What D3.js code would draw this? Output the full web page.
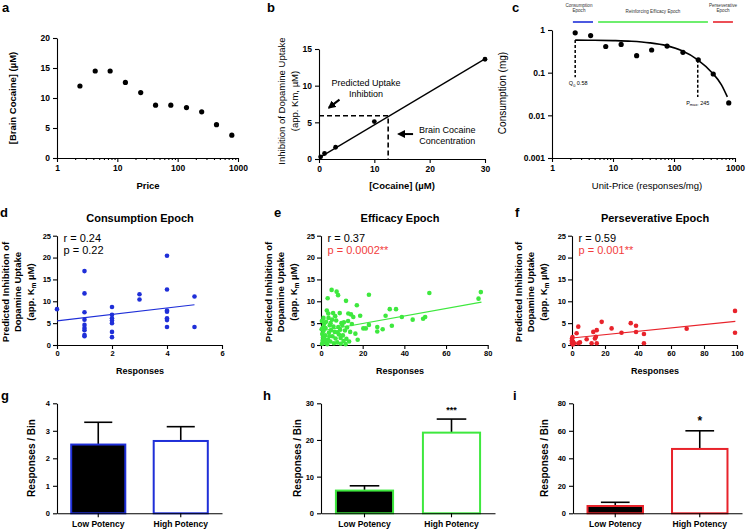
<!DOCTYPE html>
<html><head><meta charset="utf-8">
<script src="https://cdn.jsdelivr.net/npm/d3@7"></script>
<style>body{margin:0;background:#fff} svg{display:block} text{font-family:"Liberation Sans",Arial,Helvetica,sans-serif}</style>
</head><body><svg id="c" width="748" height="530"></svg>
<script>
// ---------------- DATA ----------------
const unitPrice = [2.4, 4.3, 7.6, 13.6, 24.4, 43, 77, 140, 250, 440, 790];
const brainCocaine = [12.0, 14.5, 14.5, 12.6, 10.9, 8.8, 8.8, 8.4, 7.7, 5.55, 3.8];
const consumption = [0.86, 0.74, 0.41, 0.46, 0.25, 0.34, 0.42, 0.30, 0.20, 0.093, 0.0195];
const demandCurveX = [2.4, 5, 10, 20, 40, 75, 133, 245, 421, 600, 750];
const demandCurveY = [0.58, 0.575, 0.565, 0.545, 0.5, 0.43, 0.33, 0.2, 0.1, 0.052, 0.027];
const q0 = 0.58, pmax = 245;
const epochNames = [["Consumption","Epoch"], ["Reinforcing Efficacy Epoch"], ["Perseverative","Epoch"]];
const epochRanges = [[2.2, 4.7], [5.7, 360], [436, 925]];
const epochColors = ["#1f2fd8", "#3ee83e", "#e8232b"];

const cocaineConc = [0.3, 1, 3, 10, 30];
const uptakeInhibition = [0.3, 0.75, 1.6, 5.1, 13.6];
const uptakeFit = [[0, 0.15], [30, 13.65]];
const predictedPoint = [12.5, 5.9];

const consPoints = [[0,8.2],
 [1,16.9],[1,11.8],[1,7.5],[1,5.8],[1,4.6],[1,3.9],[1,3.4],[1,2.3],[1,2.0],
 [2,8.7],[2,6.9],[2,6.1],[2,5.6],[2,5.0],[2,3.0],[2,1.8],
 [3,11.6],[3,10.4],
 [4,20.4],[4,12.7],[4,7.9],[4,7.6],[4,6.1],[4,5.7],[4,4.1],
 [5,11.1],[5,4.1]];
const consFit = [[0,5.5],[5,9.2]];

const effPoints = [
 [0.5,0.3],[0.8,1.0],[1,1.8],[0.6,2.5],[1.2,3.2],[0.9,4.0],[1.5,4.8],[0.4,5.5],[1.8,0.6],[2,2.2],[1.6,1.4],[0.3,3.6],[2.2,3.9],[1.2,6.2],[2.4,5.3],
 [2.8,7.9],[3.2,10.7],[3.5,7.2],[3,0.2],[3.4,1.2],[3.8,2.8],[4.2,4.5],[4.5,0.8],[4.8,3.4],[5.1,12.6],[5.3,5.8],[5.5,2.0],[5.8,7.3],[6,4.2],[6.2,0.4],[3.6,6.2],[4,2.0],[4.6,5.0],[2.6,1.0],
 [6.6,3.0],[7,1.5],[7.3,5.6],[7.5,12.2],[7.8,0.6],[8.2,11.4],[8.3,4.1],[8.6,2.4],[9,7.3],[9.2,3.5],[9.5,0.3],[9.8,5.0],[6.8,6.6],[7.9,2.9],[9.4,1.6],
 [10.2,4.6],[10.5,2.2],[10.8,0.9],[11,5.2],[11.5,3.3],[12,10.1],[12.2,1.4],[12.5,4.0],[13.1,7.2],[13.5,0.8],[14,3.0],[14.4,7.0],[14.8,4.8],[11.8,0.2],[13,5.5],
 [15.5,6.4],[17.2,9.1],[17.6,1.2],[18.8,6.7],[20.3,3.8],[21.5,3.8],[23,4.6],[23,11.5],[27,4.1],[27,3.1],[29.6,3.6],[16.5,2.6],
 [31,6.7],[33,8.2],[34,4.4],[36,8.2],[38.8,6.4],[44,5.8],[49,6.0],[50,6.4],[52,11.9],[75.6,10.6],[76.7,12.1]];
const effFit = [[0,3.2],[77,9.8]];

const persPoints = [[0,1.5],[0,0.4],[0,0.8],[0,1.1],[0.3,1.8],[0.5,0.1],[0.6,0.8],[1.2,0.4],[2.8,2.7],[3.8,4.2],[3.8,0.4],[4.8,0.6],
 [8.9,1.3],[11.9,0.4],[12.9,3.0],[13.9,1.5],[14.5,1.9],[15,3.4],[15,0.4],[18,5.3],[24,3.8],[30,2.8],[35.6,5.0],[38.8,4.4],[38.8,2.97],
 [43.6,2.5],[43.6,0.4],[69.5,3.7],[98.8,7.8],[98.8,2.8]];
const persFit = [[0,1.6],[99,5.4]];

const groups = ["Low Potency", "High Potency"];
const consMean = [2.5, 2.63], consSem = [0.81, 0.52];
const effMean = [6.2, 22.0], effSem = [1.3, 3.7];
const persMean = [5.3, 46.8], persSem = [2.7, 13.2];

// ---------------- HELPERS ----------------
const svg = d3.select("#c");
const FONT = '"Liberation Sans", Arial, Helvetica, sans-serif';

function txt(x, y, s, o = {}) {
  const t = svg.append("text").attr("x", x).attr("y", y)
    .attr("font-size", o.size || 9).attr("font-weight", o.bold ? "bold" : "normal")
    .attr("text-anchor", o.anchor || "middle").attr("fill", o.fill || "#000")
    .attr("font-family", FONT);
  if (o.rotate) t.attr("transform", `rotate(-90,${x},${y})`);
  if (Array.isArray(s)) {
    s.forEach(p => {
      const ts = t.append("tspan").text(p.t);
      if (p.sub) ts.attr("font-size", "70%").attr("dy", p.dy || 2);
      if (p.up) ts.attr("dy", -(p.up));
    });
  } else t.text(s);
  return t;
}
function styleAxis(g, fs, bold) {
  g.attr("font-family", FONT);
  g.select(".domain").attr("stroke", "#000").attr("stroke-width", 1.1);
  g.selectAll(".tick line").attr("stroke", "#000").attr("stroke-width", 1.1);
  g.selectAll(".tick text").attr("font-size", fs).attr("font-weight", bold ? "bold" : "normal").attr("fill", "#000");
  return g;
}
function minorLog(lo, hi) {
  const v = [];
  for (let d = lo; d < hi; d *= 10) for (let k = 2; k <= 9; k++) v.push(d * k);
  return v;
}
function xAxisLog(x, y0, labels) {
  styleAxis(svg.append("g").attr("transform", `translate(0,${y0})`)
    .call(d3.axisBottom(x).tickValues(minorLog(1, 1000)).tickFormat("").tickSize(2).tickSizeOuter(0)), 8.5, true);
  styleAxis(svg.append("g").attr("transform", `translate(0,${y0})`)
    .call(d3.axisBottom(x).tickValues(labels).tickFormat(d => String(d)).tickSize(4).tickSizeOuter(0).tickPadding(3)), 8.5, true);
}
function dots(data, x, y, r, color) {
  svg.append("g").selectAll("circle").data(data).join("circle")
    .attr("cx", d => x(d[0])).attr("cy", d => y(d[1])).attr("r", r).attr("fill", color);
}

// ---------------- PANEL LABELS ----------------
[["a",2,11.5],["b",267,11.5],["c",512,11.5],["d",0,217],["e",274,217],["f",515,217],["g",1,400],["h",263,400],["i",513,400]]
  .forEach(l => txt(l[1], l[2], l[0], {size: 13, bold: true, anchor: "start"}));

// ---------------- PANEL A ----------------
{
  const x = d3.scaleLog().domain([1, 1000]).range([57, 238]);
  const y = d3.scaleLinear().domain([0, 20]).range([158, 38]);
  xAxisLog(x, 158, [1, 10, 100, 1000]);
  styleAxis(svg.append("g").attr("transform", "translate(57,0)")
    .call(d3.axisLeft(y).tickValues([0, 5, 10, 15, 20]).tickFormat(d3.format("d")).tickSize(4).tickSizeOuter(0).tickPadding(3)), 8.5, true);
  dots(unitPrice.map((p, i) => [p, brainCocaine[i]]), x, y, 2.6, "#000");
  txt(148, 189, "Price", {size: 9.5, bold: true});
  txt(16, 98, "[Brain Cocaine] (\u00b5M)", {size: 9.5, bold: true, rotate: true});
}

// ---------------- PANEL B ----------------
{
  const x = d3.scaleLinear().domain([0, 30]).range([319, 485]);
  const y = d3.scaleLinear().domain([0, 15]).range([159, 49]);
  styleAxis(svg.append("g").attr("transform", "translate(0,159)")
    .call(d3.axisBottom(x).tickValues([0, 10, 20, 30]).tickFormat(d3.format("d")).tickSize(4).tickSizeOuter(0).tickPadding(3)), 8.5, true);
  styleAxis(svg.append("g").attr("transform", "translate(319,0)")
    .call(d3.axisLeft(y).tickValues([0, 5, 10, 15]).tickFormat(d3.format("d")).tickSize(4).tickSizeOuter(0).tickPadding(3)), 8.5, true);
  svg.append("path").datum(uptakeFit).attr("d", d3.line().x(d => x(d[0])).y(d => y(d[1])))
    .attr("stroke", "#000").attr("stroke-width", 1.3).attr("fill", "none");
  dots(cocaineConc.map((c, i) => [c, uptakeInhibition[i]]), x, y, 2.4, "#000");
  const [pc, pi] = predictedPoint;
  svg.append("path").attr("d", d3.line()([[x(0), y(pi)], [x(pc), y(pi)], [x(pc), y(0)]]))
    .attr("stroke", "#000").attr("stroke-width", 1.6).attr("stroke-dasharray", "5,3").attr("fill", "none");
  const defs = svg.append("defs");
  defs.append("marker").attr("id", "ah").attr("viewBox", "0 0 10 10").attr("refX", 8).attr("refY", 5)
    .attr("markerWidth", 4).attr("markerHeight", 4).attr("orient", "auto")
    .append("path").attr("d", "M0,0 L10,5 L0,10 z").attr("fill", "#000");
  const arrow = (a, b) => svg.append("line").attr("x1", x(a[0])).attr("y1", y(a[1])).attr("x2", x(b[0])).attr("y2", y(b[1]))
    .attr("stroke", "#000").attr("stroke-width", 2).attr("marker-end", "url(#ah)");
  arrow([3.7, 8.1], [1.8, 7.0]);
  arrow([17, 3.4], [14.4, 3.4]);
  txt(x(8.5), y(9.9), "Predicted Uptake", {size: 9});
  txt(x(8.5), y(8.45), "Inhibtion", {size: 9});
  txt(x(23.2), y(3.5), "Brain Cocaine", {size: 9});
  txt(x(23.2), y(2.1), "Concentration", {size: 9});
  txt(402, 189, "[Cocaine] (\u00b5M)", {size: 9.5, bold: true});
  txt(285, 101, "Inhibition of Dopamine Uptake", {size: 9.5, rotate: true});
  txt(298, 101, "(app. Km, \u00b5M)", {size: 9.5, rotate: true});
}

// ---------------- PANEL C ----------------
{
  const x = d3.scaleLog().domain([1, 1000]).range([552, 735]);
  const y = d3.scaleLog().domain([0.001, 1]).range([158, 30]);
  xAxisLog(x, 158, [1, 10, 100, 1000]);
  styleAxis(svg.append("g").attr("transform", "translate(552,0)")
    .call(d3.axisLeft(y).tickValues([0.001, 0.01, 0.1, 1]).tickFormat(d => String(d)).tickSize(4).tickSizeOuter(0).tickPadding(3)), 8.5, true);
  svg.append("path").datum(demandCurveX.map((v, i) => [v, demandCurveY[i]]))
    .attr("d", d3.line().x(d => x(d[0])).y(d => y(d[1])).curve(d3.curveMonotoneX))
    .attr("stroke", "#000").attr("stroke-width", 1.6).attr("fill", "none");
  dots(unitPrice.map((p, i) => [p, consumption[i]]), x, y, 2.6, "#000");
  svg.append("line").attr("x1", x(2.4)).attr("x2", x(2.4)).attr("y1", y(q0)).attr("y2", y(0.078))
    .attr("stroke", "#000").attr("stroke-width", 1.5).attr("stroke-dasharray", "3,2");
  svg.append("line").attr("x1", x(pmax)).attr("x2", x(pmax)).attr("y1", y(0.2)).attr("y2", y(0.027))
    .attr("stroke", "#000").attr("stroke-width", 1.5).attr("stroke-dasharray", "3,2");
  txt(x(2.4) + 3, y(0.078) + 8, [{t: "Q"}, {t: "0", sub: true, dy: 1.5}, {t: " 0.58", up: 1.5}], {size: 5.5});
  txt(x(pmax), y(0.027) + 8, [{t: "P"}, {t: "max", sub: true, dy: 1.5}, {t: ", 245", up: 1.5}], {size: 5.5});
  epochRanges.forEach((r, i) => {
    svg.append("line").attr("x1", x(r[0])).attr("x2", x(r[1])).attr("y1", 22).attr("y2", 22)
      .attr("stroke", epochColors[i]).attr("stroke-width", 1.6);
    const cx = x(Math.sqrt(r[0] * r[1]));
    const lines = epochNames[i];
    lines.forEach((l, j) => txt(cx - (i === 0 ? 4 : 0), lines.length === 1 ? 13 : 7 + j * 5, l, {size: 4.6, fill: "#333"}));
  });
  txt(647, 189, "Unit-Price (responses/mg)", {size: 9.5});
  txt(506, 93, "Consumption (mg)", {size: 10, rotate: true});
}

// ---------------- PANELS D, E, F ----------------
function scatterPanel(o) {
  const x = d3.scaleLinear().domain([0, o.xmax]).range([o.x0, o.x1]);
  const y = d3.scaleLinear().domain([0, 25]).range([345, 235.7]);
  styleAxis(svg.append("g").attr("transform", "translate(0,345)")
    .call(d3.axisBottom(x).tickValues(o.xticks).tickFormat(d3.format("d")).tickSize(4).tickSizeOuter(0).tickPadding(2)), 7.5, true);
  styleAxis(svg.append("g").attr("transform", `translate(${o.x0},0)`)
    .call(d3.axisLeft(y).tickValues([0, 5, 10, 15, 20, 25]).tickFormat(d3.format("d")).tickSize(4).tickSizeOuter(0).tickPadding(2)), 7.5, true);
  dots(o.points, x, y, 2.3, o.color);
  svg.append("path").datum(o.fit).attr("d", d3.line().x(d => x(d[0])).y(d => y(d[1])))
    .attr("stroke", o.color).attr("stroke-width", 1.2).attr("fill", "none");
  txt(o.title[1], 222, o.title[0], {size: 11, bold: true});
  txt(o.x0 + 6.5, 242, o.r, {size: 11, anchor: "start"});
  txt(o.x0 + 6.5, 254, o.p, {size: 11, anchor: "start", fill: o.pColor});
  txt(o.title[1], 374, "Responses", {size: 9, bold: true});
  const lx = o.labX;
  txt(lx, 292, "Predicted Inhibition of", {size: 9.5, bold: true, rotate: true});
  txt(lx + 12.3, 292, "Dopamine Uptake", {size: 9.5, bold: true, rotate: true});
  txt(lx + 24.6, 292, [{t: "(app. K"}, {t: "m", sub: true, dy: 2.5}, {t: " \u00b5M)", up: 2.5}], {size: 9.5, bold: true, rotate: true});
}
scatterPanel({x0: 57, x1: 222, xmax: 6, xticks: [0, 2, 4, 6], points: consPoints, fit: consFit, color: epochColors[0],
  title: ["Consumption Epoch", 140], r: "r = 0.24", p: "p = 0.22", pColor: "#000", labX: 9});
scatterPanel({x0: 321, x1: 487.7, xmax: 80, xticks: [0, 20, 40, 60, 80], points: effPoints, fit: effFit, color: epochColors[1],
  title: ["Efficacy  Epoch", 400], r: "r = 0.37", p: "p = 0.0002**", pColor: "#f23c3c", labX: 272});
scatterPanel({x0: 572, x1: 737, xmax: 100, xticks: [0, 20, 40, 60, 80, 100], points: persPoints, fit: persFit, color: epochColors[2],
  title: ["Perseverative Epoch", 655], r: "r = 0.59", p: "p = 0.001**", pColor: "#f23c3c", labX: 522});

// ---------------- PANELS G, H, I ----------------
function barPanel(o) {
  const x = d3.scaleBand().domain(groups).range([o.x0, o.x1]).paddingInner(0.32).paddingOuter(0.16);
  const y = d3.scaleLinear().domain([0, o.ymax]).range([513.3, 403.3]);
  const bw = x.bandwidth();
  groups.forEach((g, i) => {
    const cx = x(g) + bw / 2;
    svg.append("line").attr("x1", cx).attr("x2", cx).attr("y1", y(o.mean[i])).attr("y2", y(o.mean[i] + o.sem[i]))
      .attr("stroke", "#000").attr("stroke-width", 1.6);
    svg.append("line").attr("x1", cx - bw / 4).attr("x2", cx + bw / 4)
      .attr("y1", y(o.mean[i] + o.sem[i])).attr("y2", y(o.mean[i] + o.sem[i]))
      .attr("stroke", "#000").attr("stroke-width", 1.6);
    svg.append("rect").attr("x", x(g) + 1).attr("width", bw - 2)
      .attr("y", y(o.mean[i])).attr("height", y(0) - y(o.mean[i]))
      .attr("fill", i === 0 ? "#000" : "#fff").attr("stroke", o.color).attr("stroke-width", 2);
    if (o.stars[i]) txt(cx, y(o.mean[i] + o.sem[i]) - 6, o.stars[i], {size: o.starSize, bold: true});
  });
  styleAxis(svg.append("g").attr("transform", "translate(0,513.3)")
    .call(d3.axisBottom(x).tickSize(4).tickSizeOuter(0).tickPadding(4)), 8.5, true);
  styleAxis(svg.append("g").attr("transform", `translate(${o.x0},0)`)
    .call(d3.axisLeft(y).tickValues(o.yticks).tickFormat(d3.format("d")).tickSize(4).tickSizeOuter(0).tickPadding(3)), 7.5, true);
  txt(o.labX, 458, "Responses / Bin", {size: 10, bold: true, rotate: true});
}
barPanel({x0: 57, x1: 222, ymax: 4, yticks: [0, 1, 2, 3, 4], mean: consMean, sem: consSem, color: epochColors[0], stars: [null, null], labX: 35});
barPanel({x0: 321, x1: 495, ymax: 30, yticks: [0, 10, 20, 30], mean: effMean, sem: effSem, color: epochColors[1], stars: [null, "***"], starSize: 9, labX: 301});
barPanel({x0: 573, x1: 742, ymax: 80, yticks: [0, 20, 40, 60, 80], mean: persMean, sem: persSem, color: epochColors[2], stars: [null, "*"], starSize: 12, labX: 548});
</script></body></html>
